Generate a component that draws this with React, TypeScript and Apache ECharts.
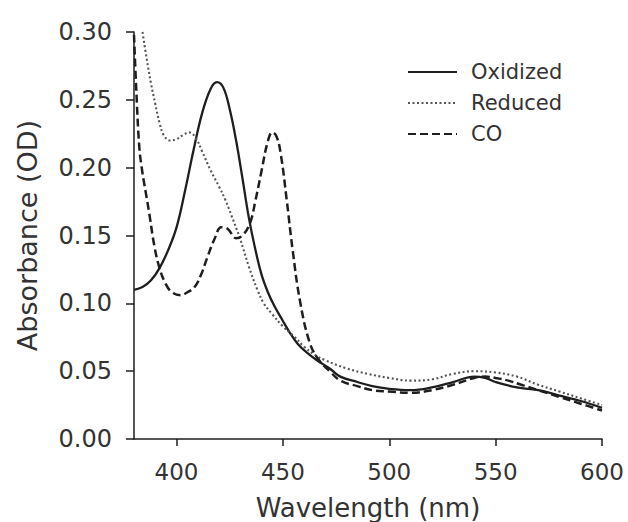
import React, { useEffect, useRef } from "react";
import * as echarts from "echarts";

const xTicks = [400, 450, 500, 550, 600];
const yTickLabels = ["0.00", "0.05", "0.10", "0.15", "0.20", "0.25", "0.30"];

const oxidizedNm = [380, 384, 388, 392, 396, 400, 404, 408, 412, 416, 419, 422, 425, 428, 431, 434, 437, 440, 443, 446, 450, 453, 457, 461, 466, 472, 477, 485, 492, 500, 510, 520, 530, 540, 545, 550, 560, 570, 580, 590, 600];
const oxidizedOD = [0.110, 0.112, 0.117, 0.126, 0.139, 0.156, 0.183, 0.213, 0.240, 0.258, 0.263, 0.259, 0.243, 0.220, 0.192, 0.163, 0.140, 0.121, 0.108, 0.098, 0.087, 0.079, 0.070, 0.064, 0.058, 0.052, 0.046, 0.042, 0.039, 0.037, 0.036, 0.038, 0.042, 0.046, 0.045, 0.042, 0.038, 0.036, 0.032, 0.028, 0.023];

const reducedNm = [384, 386, 388, 390, 392, 394, 397, 400, 403, 406, 409, 412, 416, 420, 423, 426, 430, 434, 438, 441, 445, 450, 455, 460, 465, 470, 480, 490, 500, 510, 520, 530, 540, 550, 560, 570, 580, 590, 600];
const reducedOD = [0.300, 0.280, 0.262, 0.247, 0.233, 0.224, 0.220, 0.221, 0.224, 0.226, 0.222, 0.212, 0.198, 0.186, 0.176, 0.164, 0.147, 0.127, 0.110, 0.100, 0.092, 0.083, 0.076, 0.068, 0.062, 0.058, 0.052, 0.048, 0.045, 0.043, 0.044, 0.048, 0.050, 0.049, 0.046, 0.040, 0.035, 0.030, 0.025];

const coNm = [380, 381, 382.5, 384, 385.5, 387.3, 389.6, 392, 395, 398, 402, 405, 408.5, 411.5, 414.5, 418, 421, 424, 428, 431, 434.5, 437, 440, 443, 445, 447, 449, 451.8, 454.6, 458, 462.6, 467, 472, 477, 485, 492, 500, 510, 520, 530, 540, 545, 550, 556, 562, 570, 580, 590, 600];
const coOD = [0.298, 0.260, 0.215, 0.196, 0.182, 0.165, 0.142, 0.126, 0.114, 0.108, 0.106, 0.108, 0.112, 0.121, 0.134, 0.148, 0.156, 0.155, 0.148, 0.150, 0.159, 0.175, 0.198, 0.220, 0.226, 0.223, 0.210, 0.176, 0.139, 0.102, 0.071, 0.058, 0.050, 0.043, 0.039, 0.036, 0.035, 0.034, 0.036, 0.040, 0.045, 0.046, 0.045, 0.043, 0.040, 0.036, 0.031, 0.026, 0.021];

const zip = (xs: number[], ys: number[]) => xs.map((x, i) => [x, ys[i]]);

const FONT = "DejaVu Sans";
const TEXT = "#333";
const INK = "#1e1e1e";

export default function App() {
  const ref = useRef<HTMLDivElement>(null);
  useEffect(() => {
    if (!ref.current) return;
    const chart = echarts.init(ref.current, undefined, { renderer: "svg" });
    chart.setOption({
      animation: false,
      backgroundColor: "#fff",
      grid: { left: 134, right: 26, top: 32, bottom: 83, containLabel: false, outerBoundsMode: "none" },
      legend: {
        orient: "vertical",
        left: 402,
        top: 56,
        itemWidth: 49,
        itemHeight: 22,
        itemGap: 9,
        itemStyle: { opacity: 0 },
        textStyle: { fontFamily: FONT, fontSize: 21, lineHeight: 22, color: TEXT, padding: [0, 0, 0, 9] },
        data: ["Oxidized", "Reduced", "CO"],
      },
      xAxis: {
        type: "value",
        min: 380,
        max: 600,
        name: "Wavelength (nm)",
        nameLocation: "middle",
        nameGap: 56,
        nameTextStyle: { fontFamily: FONT, fontSize: 26, color: TEXT },
        axisLine: { show: true, lineStyle: { color: INK, width: 1.5 } },
        axisTick: { show: true, length: 7, customValues: xTicks, lineStyle: { color: INK, width: 1.5 } },
        axisLabel: { customValues: xTicks, fontFamily: FONT, fontSize: 23, color: TEXT, margin: 21 },
        splitLine: { show: false },
      },
      yAxis: {
        type: "value",
        min: 0,
        max: 0.3,
        interval: 0.05,
        name: "Absorbance (OD)",
        nameLocation: "middle",
        nameGap: 93,
        nameTextStyle: { fontFamily: FONT, fontSize: 27, color: TEXT },
        axisLine: { show: true, lineStyle: { color: INK, width: 1.5 } },
        axisTick: { show: true, length: 8, lineStyle: { color: INK, width: 1.5 } },
        axisLabel: {
          fontFamily: FONT,
          fontSize: 24,
          color: TEXT,
          margin: 22,
          formatter: (v: number) => yTickLabels[Math.round(v / 0.05)] ?? v.toFixed(2),
        },
        splitLine: { show: false },
      },
      series: [
        {
          name: "Oxidized",
          type: "line",
          data: zip(oxidizedNm, oxidizedOD),
          showSymbol: false,
          symbol: "none",
          smooth: 0.4,
          color: INK,
          lineStyle: { color: INK, width: 2.3, type: "solid" },
        },
        {
          name: "Reduced",
          type: "line",
          data: zip(reducedNm, reducedOD),
          showSymbol: false,
          symbol: "none",
          smooth: 0.4,
          color: "#555",
          lineStyle: { color: "#555", width: 2.1, type: [2, 2.5] },
        },
        {
          name: "CO",
          type: "line",
          data: zip(coNm, coOD),
          showSymbol: false,
          symbol: "none",
          smooth: 0.4,
          color: INK,
          lineStyle: { color: INK, width: 2.5, type: [8, 4] },
        },
      ],
    });
    return () => chart.dispose();
  }, []);
  return <div ref={ref} style={{ width: 628, height: 522, position: "absolute", left: 0, top: 0 }} />;
}
